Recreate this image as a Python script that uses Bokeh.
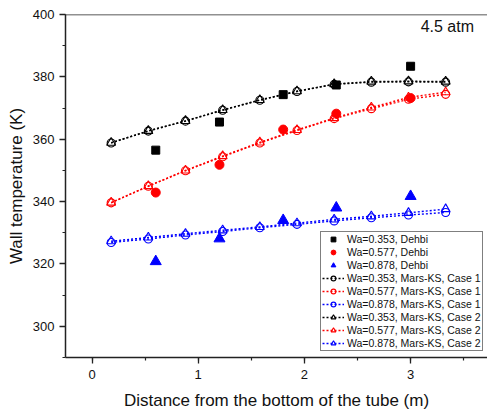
from bokeh.plotting import figure
from bokeh.models import (Range1d, SingleIntervalTicker, Legend, LegendItem, Label, Span)
from bokeh.embed import file_html
from bokeh.resources import INLINE

# ---- data ----
x_model = [0.18, 0.53, 0.88, 1.23, 1.58, 1.93, 2.28, 2.63, 2.98, 3.33]
x_dehbi = [0.6, 1.2, 1.8, 2.3, 3.0]

dehbi_353 = [356.5, 365.5, 374.3, 377.4, 383.4]
dehbi_577 = [342.9, 351.8, 363.1, 368.2, 373.2]
dehbi_878 = [320.8, 328.1, 334.0, 338.0, 341.7]

case1_353 = [358.8, 362.6, 365.8, 369.3, 372.5, 375.3, 377.6, 378.3, 378.4, 378.3]
case1_577 = [339.6, 344.9, 349.9, 354.4, 358.8, 362.8, 366.6, 369.8, 372.8, 374.4]
case1_878 = [326.9, 328.0, 329.3, 330.4, 331.6, 332.7, 333.8, 334.8, 335.7, 336.5]

case2_353 = [358.9, 362.7, 365.9, 369.4, 372.6, 375.4, 377.7, 378.5, 378.6, 378.5]
case2_577 = [339.7, 345.0, 350.0, 354.6, 359.0, 363.0, 366.8, 370.2, 373.4, 375.1]
case2_878 = [327.3, 328.5, 329.7, 330.8, 331.9, 333.1, 334.3, 335.3, 336.4, 337.6]

labels = ["Wa=0.353, Dehbi", "Wa=0.577, Dehbi", "Wa=0.878, Dehbi",
          "Wa=0.353, Mars-KS, Case 1", "Wa=0.577, Mars-KS, Case 1", "Wa=0.878, Mars-KS, Case 1",
          "Wa=0.353, Mars-KS, Case 2", "Wa=0.577, Mars-KS, Case 2", "Wa=0.878, Mars-KS, Case 2"]
colors = ["#000000", "#FF0000", "#0000FF"]

x_start, x_end = -0.25, 3.724
y_start, y_end = 290, 400

FONT = "Liberation Sans"

p = figure(width=487, height=412, output_backend="svg", toolbar_location=None,
           x_range=Range1d(x_start, x_end), y_range=Range1d(y_start, y_end),
           min_border_left=65, min_border_right=0, min_border_top=14, min_border_bottom=55)
p.outline_line_color = None
p.grid.visible = False
p.background_fill_color = "white"
p.border_fill_color = "white"

for ax in (p.xaxis[0], p.yaxis[0]):
    ax.axis_line_width = 1.5
    ax.axis_line_color = "#222222"
    ax.major_tick_line_color = "#222222"
    ax.minor_tick_line_color = "#222222"
    ax.major_tick_line_width = 1.3
    ax.minor_tick_line_width = 1.2
    ax.major_tick_in = 0
    ax.major_tick_out = 6
    ax.minor_tick_in = 0
    ax.minor_tick_out = 3
    ax.major_label_text_font = FONT
    ax.major_label_text_font_size = "13px"
    ax.major_label_text_color = "#111111"
    ax.axis_label_text_font = FONT
    ax.axis_label_text_font_size = "17px"
    ax.axis_label_text_font_style = "normal"
    ax.axis_label_text_color = "#111111"
    ax.major_label_standoff = 5

p.xaxis[0].ticker = SingleIntervalTicker(interval=1, num_minor_ticks=2)
p.yaxis[0].ticker = SingleIntervalTicker(interval=20, num_minor_ticks=2)
p.xaxis.axis_label = "Distance from the bottom of the tube (m)"
p.yaxis.axis_label = "Wall temperature (K)"
p.xaxis.major_label_standoff = 6
p.xaxis.axis_label_standoff = 9
p.yaxis.axis_label_standoff = 4

top = Span(location=y_end, dimension="width", line_color="#222222", line_width=1.5)
p.add_layout(top)

items = []
# Dehbi
r = p.scatter(x_dehbi, dehbi_353, marker="square", size=8, color=colors[0])
items.append(LegendItem(label=labels[0], renderers=[r]))
r = p.scatter(x_dehbi, dehbi_577, marker="circle", size=9, color=colors[1])
items.append(LegendItem(label=labels[1], renderers=[r]))
r = p.scatter(x_dehbi, dehbi_878, marker="triangle", size=11, color=colors[2])
items.append(LegendItem(label=labels[2], renderers=[r]))

# Mars-KS case 1 (open circles), case 2 (open triangles)
for series, marker, size, off in (((case1_353, case1_577, case1_878), "circle", 8, 3),
                                   ((case2_353, case2_577, case2_878), "triangle", 9, 6)):
    for i, ys in enumerate(series):
        l = p.line(x_model, ys, line_color=colors[i], line_width=1.4, line_dash="2 2")
        m = p.scatter(x_model, ys, marker=marker, size=size, line_color=colors[i],
                      fill_color=None, line_width=1.1)
        items.append(LegendItem(label=labels[off + i], renderers=[l, m]))

legend = Legend(items=items, location=(255, 6))
legend.label_text_font = FONT
legend.label_text_font_size = "10.5px"
legend.label_text_color = "#111111"
legend.glyph_width = 22
legend.glyph_height = 12
legend.label_height = 12
legend.spacing = 1
legend.padding = 1
legend.margin = 0
legend.label_standoff = 3
legend.border_line_color = "black"
legend.border_line_width = 1
legend.background_fill_color = "white"
legend.background_fill_alpha = 1
p.add_layout(legend)

p.add_layout(Label(x=3.597, y=396.3, text="4.5 atm", text_align="right", text_baseline="middle",
                   text_font=FONT, text_font_size="16px", text_color="#111111"))

open("out.html", "w").write(file_html(p, INLINE))
